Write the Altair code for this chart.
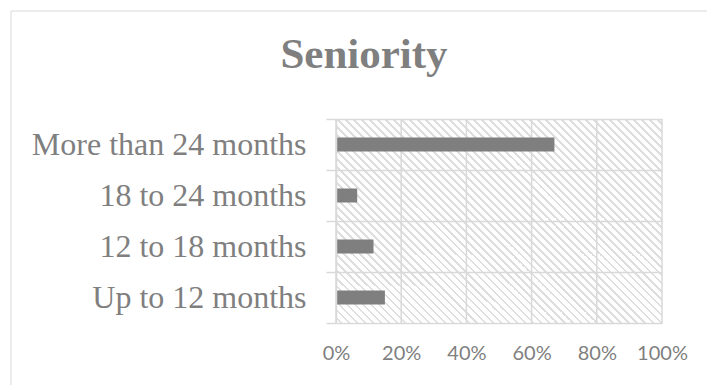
import altair as alt
import pandas as pd

CATEGORIES = ["More than 24 months", "18 to 24 months", "12 to 18 months", "Up to 12 months"]
VALUES = [0.67, 0.065, 0.115, 0.15]
X_TICKS = [0.0, 0.2, 0.4, 0.6, 0.8, 1.0]
TITLE = "Seniority"

W, H = 326, 204
GRID = "#d9d9d9"
TEXT = "#7f7f7f"
HATCH = "#dedede"

# diagonal hatch as a striped linear gradient (style only)
r = H / W
k = (1 + r) / (1 + r * r)
P, T = 8.0, 2.5
stops = []
d = -H - (H % P) - P
while d < W + P:
    for a, c1, c2 in ((d, "#ffffff", HATCH), (d + T, HATCH, "#ffffff")):
        t = (a + H) / (W + H)
        if 0 <= t <= 1:
            stops.append(alt.GradientStop(offset=t, color=c1))
            stops.append(alt.GradientStop(offset=t, color=c2))
    d += P
stops = [alt.GradientStop(offset=0, color="#ffffff")] + stops + [alt.GradientStop(offset=1, color="#ffffff")]
hatch = alt.LinearGradient(gradient="linear", stops=stops, x1=0, y1=1, x2=k, y2=1 - r * k)

bars_df = pd.DataFrame({"category": CATEGORIES, "value": VALUES})
ticks_df = pd.DataFrame({"value": X_TICKS})
one_df = pd.DataFrame({"a": [0]})

xscale = alt.Scale(domain=[0, 1], nice=False)
xaxis = alt.Axis(values=X_TICKS, format=".0%", title=None, grid=False, domain=False,
                 ticks=False, tickSize=0, labelFont="Lato", labelFontSize=20,
                 labelColor=TEXT, labelPadding=20, labelOverlap=False, labelFlush=False,
                 zindex=1)
yaxis = alt.Axis(title=None, grid=True, gridColor=GRID, gridWidth=1.5, tickBand="extent",
                 domain=True, domainColor=GRID, domainWidth=1.5, ticks=True, tickSize=10,
                 tickColor=GRID, tickWidth=1.5, labelFont="Liberation Serif", labelFontSize=32,
                 labelColor=TEXT, labelPadding=20, labelLimit=0, zindex=1)

bg = alt.Chart(one_df).mark_rect(fill=hatch, strokeWidth=0).encode(
    x=alt.value(0), x2=alt.value(W), y=alt.value(0), y2=alt.value(H))

vgrid = alt.Chart(ticks_df).mark_rule(color=GRID, strokeWidth=1.5).encode(
    x=alt.X("value:Q", scale=xscale, axis=xaxis), y=alt.value(0), y2=alt.value(H))

bars = alt.Chart(bars_df).mark_bar(color="#7f7f7f", size=14).encode(
    x=alt.X("value:Q", scale=xscale, axis=xaxis),
    y=alt.Y("category:N", sort=CATEGORIES,
            scale=alt.Scale(domain=CATEGORIES, paddingInner=0, paddingOuter=0), axis=yaxis))

frame_left = alt.Chart(one_df).mark_rule(color=GRID, strokeWidth=1).encode(
    x=alt.value(-325), y=alt.value(-108), y2=alt.value(H + 62))
frame_top = alt.Chart(one_df).mark_rule(color=GRID, strokeWidth=1).encode(
    x=alt.value(-325), x2=alt.value(W + 45), y=alt.value(-108))

chart = alt.layer(bg, vgrid, bars, frame_left, frame_top).properties(
    width=W, height=H,
    title=alt.TitleParams(TITLE, font="Liberation Serif", fontSize=43, fontWeight="bold",
                          color=TEXT, anchor="middle", frame="group", dx=-135,
                          offset=0, dy=100.5, baseline="alphabetic"),
    autosize=alt.AutoSizeParams(type="none"),
    padding={"left": 336, "top": 119, "right": 45, "bottom": 62},
).configure_view(stroke=None)

chart.save("out.html", embed_options={"renderer": "svg", "actions": False})
